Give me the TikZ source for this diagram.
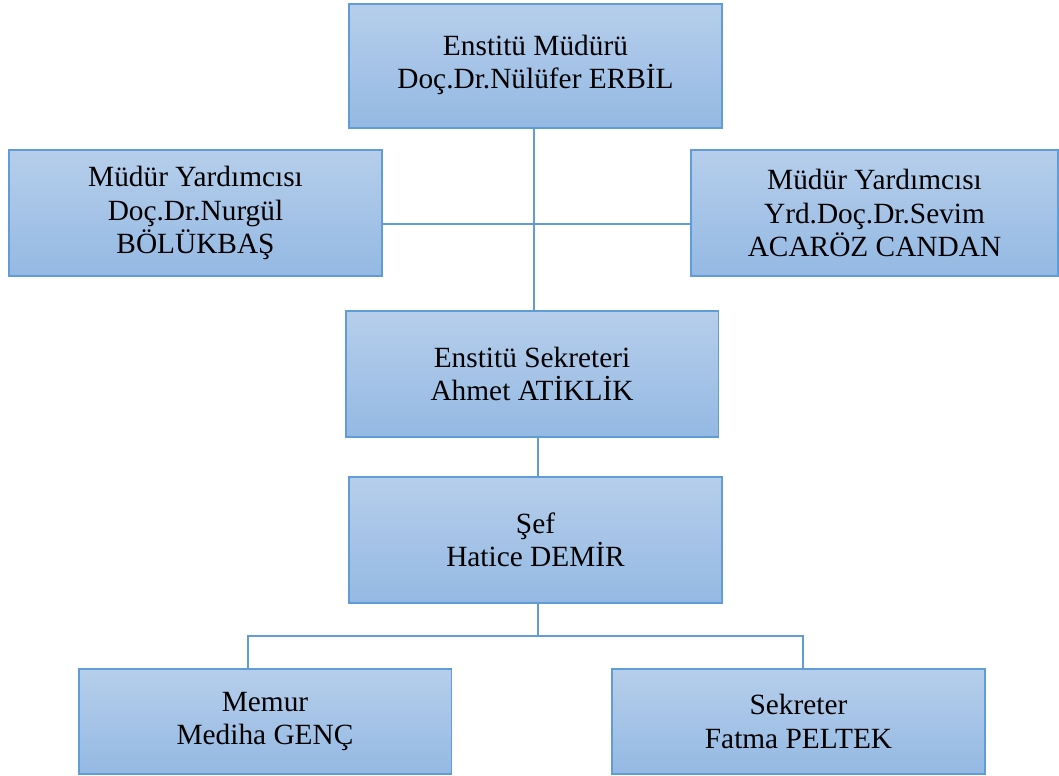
\documentclass[tikz,border=0pt]{standalone}
\usepackage{fontspec}
\setmainfont{Liberation Serif}
\usetikzlibrary{positioning}
\definecolor{boxtop}{RGB}{182,206,235}
\definecolor{boxbot}{RGB}{148,185,227}
\definecolor{boxline}{RGB}{96,157,214}
\tikzset{
	unitbox/.style={draw=boxline, line width=1.1pt, top color=boxtop, bottom color=boxbot,
		minimum width=7.46cm, minimum height=2.52cm, align=center, inner sep=0pt,
		font=\fontsize{16.7}{19}\selectfont},
	lowbox/.style={unitbox, minimum height=2.1cm},
	link/.style={draw=boxline, line width=1pt}
}

\begin{document}
\begin{tikzpicture}[x=0.02cm, y=-0.02cm]
		%%%%% START %%%%%
		\useasboundingbox (0, 0) rectangle (1059, 776);
		
		\node[unitbox, minimum height=2.48cm, text depth=0.16cm] (mudur) at (535.5, 66) {Enstitü Müdürü\\Doç.Dr.Nülüfer ERBİL};
		\node[unitbox] (yard1) at (195.5, 213) {Müdür Yardımcısı\\Doç.Dr.Nurgül\\BÖLÜKBAŞ};
		\node[unitbox, minimum width=7.34cm] (yard2) at (874.5, 213) {Müdür Yardımcısı\\Yrd.Doç.Dr.Sevim\\ACARÖZ CANDAN};
		\node[unitbox] (sekr) at (532, 374) {Enstitü Sekreteri\\Ahmet ATİKLİK};
		\node[unitbox] (sef) at (535.5, 540) {Şef\\Hatice DEMİR};
		\node[lowbox] (memur) at (265, 721.5) {Memur\\Mediha GENÇ};
		\node[lowbox] (sekreter) at (798.5, 721.5) {Sekreter\\Fatma PELTEK};
		
		\draw[link] ([xshift=-0.03cm]mudur.south) -- ([xshift=-0.03cm]mudur.south |- sekr.north);
		\draw[link] ([yshift=-0.22cm]yard1.east) -- ([yshift=-0.22cm]yard2.west);
		\draw[link] ([xshift=0.12cm]sekr.south) -- ([xshift=0.12cm]sekr.south |- sef.north);
		\coordinate (fork) at ([xshift=0.05cm, yshift=-0.64cm]sef.south);
		\draw[link] ([xshift=0.05cm]sef.south) -- (fork);
		\draw[link] (fork) -| ([xshift=-0.34cm]memur.north);
		\draw[link] (fork) -| ([xshift=0.09cm]sekreter.north);
		
		%%%%% END %%%%%
	\end{tikzpicture}
\end{document}
